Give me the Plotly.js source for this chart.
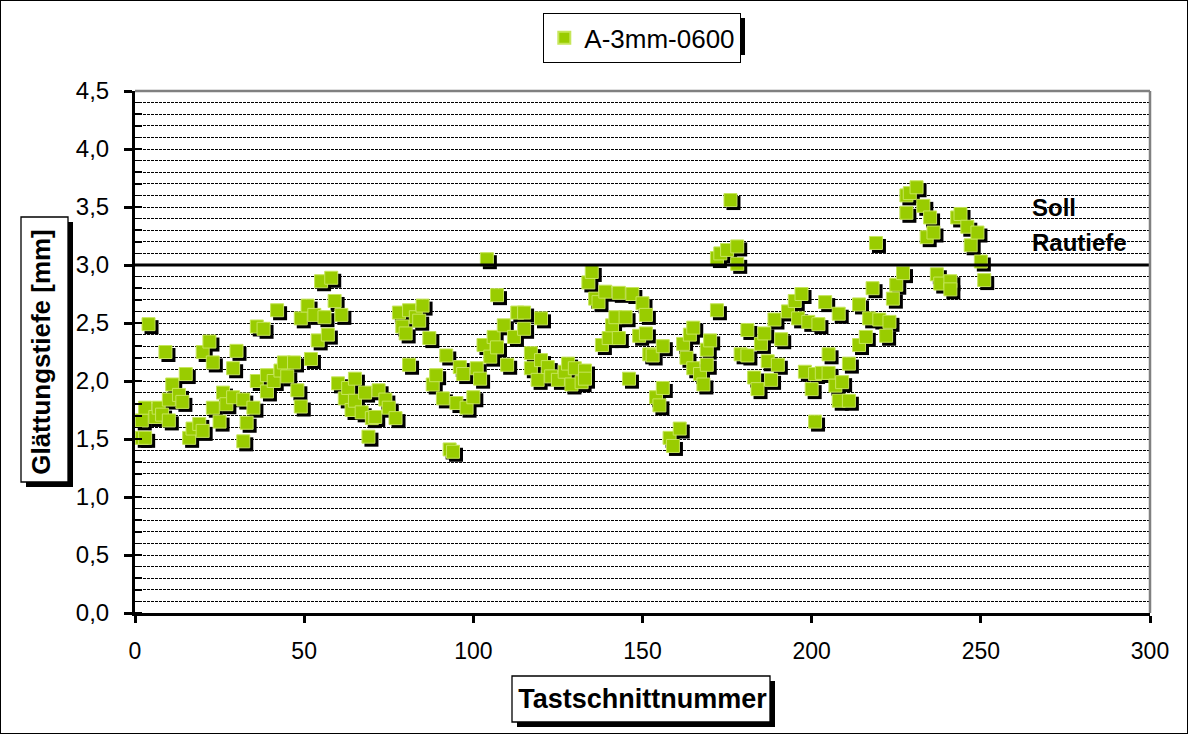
<!DOCTYPE html>
<html>
<head>
<meta charset="utf-8">
<script src="https://cdn.plot.ly/plotly-3.0.1.min.js"></script>
<style>
  html, body { margin: 0; padding: 0; background: #fff; }
  #wrap { position: relative; width: 1188px; height: 734px; }
  #chart { width: 1188px; height: 734px; }
  #frame { position: absolute; left: 0; top: 0; width: 1188px; height: 734px; box-sizing: border-box; border: 1px solid #000; pointer-events: none; }
</style>
</head>
<body>
<div id="wrap"><div id="chart"></div><div id="frame"></div></div>
<script>
// Tastschnittnummer (measurement index) and Glättungstiefe [mm]
const seriesName = 'A-3mm-0600';
const tastschnitt = [
  2,2,3,3,4,6,7,8,9,10,10,11,13,14,15,16,17,19,20,20,
  22,23,23,25,26,27,29,29,30,32,32,33,35,36,36,38,39,39,41,42,
  43,44,45,47,48,49,49,51,52,53,54,55,56,57,58,59,60,61,62,63,
  64,65,65,67,68,69,70,71,72,74,75,77,78,79,80,81,81,83,84,85,
  87,88,89,91,92,93,94,95,96,97,98,100,101,102,103,104,105,106,107,107,
  109,110,112,113,115,115,117,117,119,120,120,122,123,125,127,128,129,130,132,133,
  133,134,135,136,137,138,139,140,141,142,143,143,145,146,147,149,150,151,151,152,
  153,154,155,156,156,158,159,161,162,163,164,165,165,167,168,169,169,170,172,172,
  173,175,176,178,178,179,181,181,183,184,185,186,187,188,189,190,191,193,195,196,
  197,198,199,200,201,201,202,203,204,205,205,207,208,208,209,211,211,214,214,216,
  217,218,219,220,222,223,224,225,227,228,228,229,231,233,234,235,236,237,238,241,
  241,243,244,246,247,249,250,251
];
const glaettungstiefe = [
  1.66,1.51,1.51,1.77,2.49,1.69,1.77,1.71,2.25,1.66,1.84,1.97,1.88,1.82,2.06,1.51,1.59,1.63,1.57,2.25,
  2.34,1.77,2.16,1.65,1.90,1.80,1.86,2.11,2.26,1.84,1.48,1.64,1.77,2.47,2.00,2.45,2.05,1.91,2.00,2.61,
  2.09,2.16,2.04,2.16,1.92,1.78,2.54,2.65,2.19,2.57,2.35,2.86,2.55,2.40,2.89,2.69,1.98,2.57,1.85,1.94,
  1.75,1.83,2.02,1.73,1.90,1.52,1.68,1.69,1.92,1.84,1.77,1.68,2.59,2.47,2.41,2.14,2.61,2.55,2.52,2.65,
  2.37,1.97,2.05,1.85,2.22,1.41,1.39,1.81,2.12,2.06,1.77,1.86,2.11,2.02,2.31,3.05,2.21,2.38,2.29,2.74,
  2.48,2.14,2.38,2.59,2.45,2.59,2.11,2.24,2.01,2.18,2.54,2.12,2.04,2.01,2.08,2.15,1.97,2.11,1.99,2.09,
  2.02,2.85,2.94,2.71,2.68,2.31,2.77,2.37,2.48,2.55,2.37,2.76,2.55,2.02,2.75,2.39,2.67,2.57,2.41,2.23,
  2.22,1.86,1.79,2.30,1.94,1.51,1.44,1.59,2.32,2.20,2.40,2.46,2.11,2.06,1.97,2.14,2.27,2.35,2.61,3.06,
  3.10,3.13,3.56,3.16,3.01,2.23,2.22,2.44,2.03,1.93,2.32,2.41,2.17,2.01,2.53,2.14,2.36,2.60,2.69,2.54,
  2.75,2.08,2.51,1.93,2.06,1.65,2.49,2.07,2.68,2.07,2.23,1.96,2.58,1.83,1.99,1.83,2.15,2.31,2.66,2.38,
  2.54,2.80,3.19,2.53,2.39,2.51,2.71,2.83,2.93,3.45,3.60,3.62,3.67,3.51,3.24,3.41,3.28,2.92,2.84,2.86,
  2.79,3.41,3.44,3.33,3.17,3.28,3.03,2.87
];
const sollRautiefe = 3.0;
const xTickVals = [0, 50, 100, 150, 200, 250, 300];
const yTickVals = [0, 0.5, 1, 1.5, 2, 2.5, 3, 3.5, 4, 4.5];
const annotLines = ['Soll', 'Rautiefe'];

// layout geometry (pixels)
const W = 1188, H = 734;
const M = {l: 135, r: 38, t: 91, b: 121};
const plotW = W - M.l - M.r, plotH = H - M.t - M.b;
const xRange = [0, 300], yRange = [0, 4.5];
const px2x = (xRange[1] - xRange[0]) / plotW;
const px2y = (yRange[1] - yRange[0]) / plotH;
const shadowPx = 3;
const pX = p => (p - M.l) / plotW;         // page px -> paper x
const pY = p => (H - M.b - p) / plotH;      // page px -> paper y

const shadowTrace = {
  type: 'scatter', mode: 'markers', showlegend: false, hoverinfo: 'skip',
  x: tastschnitt.map(v => v + shadowPx * px2x),
  y: glaettungstiefe.map(v => v - shadowPx * px2y),
  marker: {symbol: 'square', size: 14, color: '#000000', line: {width: 0}}
};
const mainTrace = {
  type: 'scatter', mode: 'markers', name: seriesName,
  x: tastschnitt, y: glaettungstiefe,
  marker: {symbol: 'square', size: 13, color: '#99cc00', line: {color: '#c6e65a', width: 1}}
};

function box(x0, y0, x1, y1, s) {
  return [
    {type: 'rect', xref: 'paper', yref: 'paper', layer: 'above',
     x0: pX(x0 + s), x1: pX(x1 + s), y0: pY(y1 + s), y1: pY(y0 + s),
     fillcolor: '#000', line: {width: 0}},
    {type: 'rect', xref: 'paper', yref: 'paper', layer: 'above',
     x0: pX(x0), x1: pX(x1), y0: pY(y1), y1: pY(y0),
     fillcolor: '#fff', line: {color: '#000', width: 1.3}}
  ];
}

const shapes = [
  // Soll line
  {type: 'line', xref: 'paper', yref: 'y', x0: 0, x1: 1, y0: sollRautiefe, y1: sollRautiefe,
   line: {color: '#000', width: 3}, layer: 'above'},
  // plot area border top/right
  {type: 'line', xref: 'paper', yref: 'paper', x0: 0, x1: 1, y0: 1, y1: 1, line: {color: '#808080', width: 2.5}, layer: 'above'},
  {type: 'line', xref: 'paper', yref: 'paper', x0: 1, x1: 1, y0: 0, y1: 1, line: {color: '#808080', width: 2.5}, layer: 'above'},
  // legend shadow
  {type: 'rect', xref: 'paper', yref: 'paper', layer: 'above',
   x0: pX(548), x1: pX(745), y0: pY(55), y1: pY(18), fillcolor: '#000', line: {width: 0}}
].concat(box(512, 676, 770, 722, 5)).concat(box(21, 217, 68, 482, 5));

const layout = {
  width: W, height: H,
  margin: M,
  paper_bgcolor: '#fff', plot_bgcolor: '#fff',
  separators: ',.',
  font: {family: 'Liberation Sans, Arial, sans-serif', color: '#000', size: 23},
  showlegend: true,
  legend: {
    x: pX(543), y: pY(13), xanchor: 'left', yanchor: 'top',
    bgcolor: '#fff', bordercolor: '#000', borderwidth: 1.3,
    font: {size: 26, family: 'Liberation Sans, Arial, sans-serif'},
    itemsizing: 'constant'
  },
  xaxis: {
    range: xRange, tickvals: xTickVals, ticks: 'outside', ticklen: 7, tickwidth: 3, tickcolor: '#000',
    showline: true, linecolor: '#000', linewidth: 3, showgrid: false, zeroline: false,
    ticklabelstandoff: 8, tickfont: {size: 23},
    title: {text: '<b>Tastschnittnummer</b>', font: {size: 27}, standoff: 27}
  },
  yaxis: {
    range: yRange, tickvals: yTickVals, tickformat: '.1f', ticks: 'outside', ticklen: 8, tickwidth: 3, tickcolor: '#000',
    showline: true, linecolor: '#000', linewidth: 3, zeroline: false,
    showgrid: true, gridcolor: '#000', griddash: '3px,1px', gridwidth: 1,
    ticklabelstandoff: 10, tickfont: {size: 24},
    minor: {dtick: 0.1, ticks: 'inside', ticklen: 7, tickwidth: 1.5, tickcolor: '#000',
            showgrid: true, gridcolor: '#000', griddash: '3px,1px', gridwidth: 1},
    title: {text: '<b>Glättungstiefe [mm]</b>', font: {size: 26}, standoff: 18}
  },
  shapes: shapes,
  annotations: [
    {xref: 'x', yref: 'y', x: 264.5, y: 3.50, xanchor: 'left', yanchor: 'middle', showarrow: false,
     text: '<b>' + annotLines[0] + '</b>', font: {size: 24}},
    {xref: 'x', yref: 'y', x: 264.5, y: 3.19, xanchor: 'left', yanchor: 'middle', showarrow: false,
     text: '<b>' + annotLines[1] + '</b>', font: {size: 24}}
  ]
};

Plotly.newPlot('chart', [shadowTrace, mainTrace], layout, {staticPlot: true, displayModeBar: false});
</script>
</body>
</html>
